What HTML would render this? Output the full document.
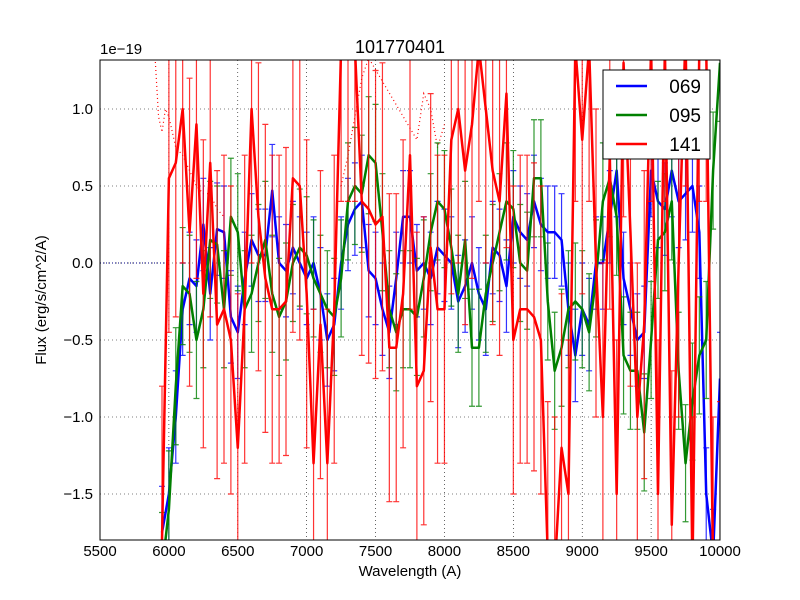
<!DOCTYPE html>
<html><head><meta charset="utf-8"><style>
html,body{margin:0;padding:0;width:800px;height:600px;overflow:hidden;background:#fff;}
svg{display:block;font-family:"Liberation Sans","DejaVu Sans",sans-serif;}
</style></head><body>
<svg id="chart" width="800" height="600" viewBox="0 0 800 600">
<rect x="0" y="0" width="800" height="600" fill="#fff"/>
<defs><clipPath id="clip"><rect x="100" y="60" width="620" height="480"/></clipPath></defs>
<g id="grid"></g>
<g id="marks" clip-path="url(#clip)"></g>
<rect x="100" y="60" width="620" height="480" fill="none" stroke="#000" stroke-width="1"/>
<g id="ticks"></g>
<text x="400" y="53" font-size="18" text-anchor="middle">101770401</text>
<text x="100" y="54" font-size="15">1e−19</text>
<text x="410" y="576" font-size="15" text-anchor="middle">Wavelength (A)</text>
<text x="46" y="300" font-size="15" text-anchor="middle" transform="rotate(-90 46 300)">Flux (erg/s/cm^2/A)</text>
<g>
<rect x="603" y="70" width="107" height="89" fill="#fff" stroke="#000" stroke-width="1"/>
<line x1="616" y1="86" x2="647" y2="86" stroke="#0000ff" stroke-width="2.5"/>
<text x="701" y="93" font-size="19" text-anchor="end">069</text>
<line x1="616" y1="115" x2="647" y2="115" stroke="#008000" stroke-width="2.5"/>
<text x="701" y="122" font-size="19" text-anchor="end">095</text>
<line x1="616" y1="144" x2="647" y2="144" stroke="#ff0000" stroke-width="2.5"/>
<text x="701" y="151" font-size="19" text-anchor="end">141</text>
</g>
</svg>
<script>
const xTicks=[5500,6000,6500,7000,7500,8000,8500,9000,9500,10000];
const yTicks=[-1.5,-1.0,-0.5,0.0,0.5,1.0];
const yTickLabels=["−1.5","−1.0","−0.5","0.0","0.5","1.0"];
const wavelengths=[5950,6000,6050,6100,6150,6200,6250,6300,6350,6400,6450,6500,6550,6600,6650,6700,6750,6800,6850,6900,6950,7000,7050,7100,7150,7200,7250,7300,7350,7400,7450,7500,7550,7600,7650,7700,7750,7800,7850,7900,7950,8000,8050,8100,8150,8200,8250,8300,8350,8400,8450,8500,8550,8600,8650,8700,8750,8800,8850,8900,8950,9000,9050,9100,9150,9200,9250,9300,9350,9400,9450,9500,9550,9600,9650,9700,9750,9800,9850,9900,9950,10000];
const flux069=[-1.75,-1.5,-1.0,-0.3,-0.1,-0.15,0.25,-0.2,0.22,0.2,-0.35,-0.45,-0.1,0.15,0.05,0.05,0.47,0.0,-0.05,0.1,0.0,-0.1,0.0,-0.2,-0.5,-0.4,0.0,0.25,0.35,0.4,-0.05,-0.1,-0.3,-0.45,-0.1,0.3,0.3,-0.05,0.0,-0.1,0.1,0.05,0.0,-0.25,-0.15,0.0,-0.2,-0.3,0.1,0.05,-0.15,0.3,0.2,0.15,0.4,0.25,0.2,0.2,0.15,-0.3,-0.6,-0.3,-0.4,0.0,0.0,0.3,0.6,-0.1,-0.3,-0.5,-0.45,0.6,0.4,0.35,0.6,0.4,0.45,0.5,0.2,-1.5,-1.9,-0.75];
const flux095=[-2.0,-1.6,-0.8,-0.15,-0.2,-0.5,-0.3,0.15,0.12,-0.3,0.3,0.2,-0.3,-0.2,0.0,0.15,-0.2,-0.35,-0.25,0.0,0.1,0.05,-0.1,-0.2,-0.3,-0.35,-0.1,0.4,0.5,0.45,0.7,0.65,0.2,-0.3,-0.45,-0.3,-0.3,-0.35,-0.1,0.2,0.4,0.35,0.1,-0.2,0.15,-0.55,-0.55,-0.2,0.0,0.2,0.4,0.35,0.0,-0.05,0.55,0.55,-0.25,-0.7,-0.55,-0.3,-0.25,-0.3,-0.45,-0.1,0.4,0.55,0.3,-0.6,-0.7,-0.7,-1.1,-0.5,0.15,0.2,0.4,-0.7,-1.3,-0.9,-0.6,-0.5,0.6,1.3];
const flux141=[-1.8,0.55,0.65,1.0,0.2,0.9,-0.2,0.65,-0.4,-0.3,-0.5,-1.2,-0.3,1.0,0.3,-0.1,-0.3,-0.3,-0.25,0.55,0.5,-0.2,-1.3,-0.4,-1.3,-0.3,1.4,1.4,1.4,0.4,0.35,0.25,0.3,-0.55,-0.55,-0.2,0.7,-0.8,-0.7,0.1,-0.3,-0.3,0.8,1.0,0.6,0.9,1.4,1.0,0.6,0.4,1.1,-0.5,-0.3,-0.3,-0.35,-0.5,-1.9,-2.0,-1.2,-1.5,1.4,0.8,1.4,0.0,-1.0,0.7,-1.5,1.3,0.2,-1.0,-0.4,1.4,-1.5,1.4,-1.7,0.0,1.5,-2.0,1.4,1.4,-2.0,-1.9];
const err069=0.3, err095=0.38, err141=1.0;
const noiseW=[5900,5925,5950,5975,6000,6050,6100,6150,6200,6250,6300,6350,6400,7250,7300,7350,7400,7450,7800,7850,7900,7950,8000];
const noiseF=[1.4,0.95,0.85,1.0,0.95,0.75,0.7,0.6,0.5,0.45,0.45,0.35,0.3,0.5,0.7,0.95,1.2,1.4,0.8,1.1,1.0,0.75,0.9];

const X=w=>100+(w-5500)*620/4500;
const Y=v=>263-v*154;
const C=y=>Math.max(58,Math.min(542,y));
const NS="http://www.w3.org/2000/svg";
function mk(tag,attrs,parent){const e=document.createElementNS(NS,tag);for(const k in attrs)e.setAttribute(k,attrs[k]);parent.appendChild(e);return e;}
const grid=document.getElementById('grid'),marks=document.getElementById('marks'),ticks=document.getElementById('ticks');
xTicks.forEach((t,i)=>{
 const g=mk('line',{x1:X(t),x2:X(t),y1:60,y2:540,stroke:'#000','stroke-width':0.6,'stroke-dasharray':'1,3'},grid);
 
 
 const l=mk('text',{x:X(t),y:556,'font-size':15,'text-anchor':'middle'},ticks);
 l.textContent=String(t);
 
 
});
yTicks.forEach((t,i)=>{
 const g=mk('line',{x1:100,x2:720,y1:Y(t),y2:Y(t),stroke:'#000','stroke-width':0.6,'stroke-dasharray':'1,3'},grid);
 
 
 const l=mk('text',{x:93,y:Y(t)+5,'font-size':15,'text-anchor':'end'},ticks);
 l.textContent=yTickLabels[i];
 
 
});
const z=mk('line',{x1:X(5500),x2:X(6000),y1:Y(0),y2:Y(0),stroke:'#000080','stroke-width':1,'stroke-dasharray':'1,2'},marks);


const np=mk('polyline',{points:noiseW.slice(0,13).map((w,i)=>X(w)+','+C(Y(noiseF[i]))).join(' '),fill:'none',stroke:'#ff0000','stroke-width':1.2,'stroke-dasharray':'1,3'},marks);


const np2=mk('polyline',{points:noiseW.slice(13).map((w,i)=>X(w)+','+C(Y(noiseF[i+13]))).join(' '),fill:'none',stroke:'#ff0000','stroke-width':1.2,'stroke-dasharray':'1,3'},marks);


function series(vals,err,color,name){
 const g=mk('g',{},marks);
 
 
 wavelengths.forEach((w,i)=>{
  const x=X(w),ry1=Y(vals[i]+err),ry2=Y(vals[i]-err);
  const y1=C(ry1),y2=C(ry2);
  let d=`M${x},${y1}V${y2}`;
  if(ry1>=60&&ry1<=540)d+=`M${x-3},${y1}H${x+3}`;
  if(ry2>=60&&ry2<=540)d+=`M${x-3},${y2}H${x+3}`;
  const e=mk('path',{d:d,stroke:color,'stroke-width':1.2,fill:'none','stroke-opacity':0.8},g);
  
  
 });
 const p=mk('polyline',{points:wavelengths.map((w,i)=>X(w)+','+Y(vals[i])).join(' '),fill:'none',stroke:color,'stroke-width':2.5,'stroke-linejoin':'round'},g);
 
 
}
series(flux069,err069,'#0000ff','069');
series(flux095,err095,'#008000','095');
series(flux141,err141,'#ff0000','141');
</script>
</body></html>
